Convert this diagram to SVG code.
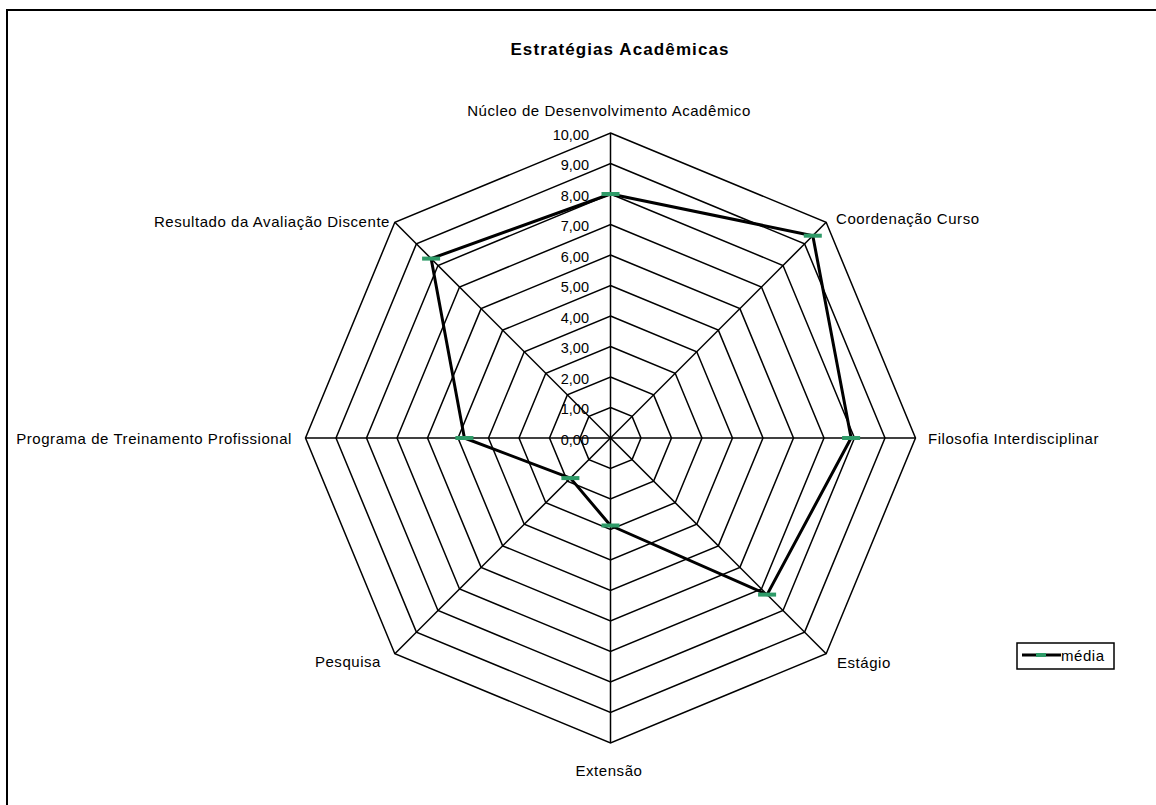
<svg xmlns="http://www.w3.org/2000/svg" width="1156" height="805" viewBox="0 0 1156 805">
  <style>
    text { font-family: "Liberation Sans", Arial, sans-serif; font-size: 15px; letter-spacing: 0.55px; fill: #000; }
    .title { font-size: 17px; font-weight: bold; letter-spacing: 1.1px; }
    .tick { text-anchor: end; font-size: 14.5px; letter-spacing: 0; }
    .grid { fill: none; stroke: #000; stroke-width: 1.5; }
    .series { fill: none; stroke: #000; stroke-width: 3; stroke-linejoin: round; }
    .mark { fill: #2e9b68; }
  </style>
  <defs>
    <rect id="dash" class="mark" x="-9" y="-2" width="18" height="4"/>
  </defs>

  <rect width="1156" height="805" fill="#fff"/>
  <!-- chart frame -->
  <rect x="7" y="10" width="1160" height="810" fill="none" stroke="#000" stroke-width="2"/>

  <text class="title" x="620" y="55" text-anchor="middle">Estratégias Acadêmicas</text>

  <!-- octagonal grid rings and spokes -->
  <g id="grid" class="grid" transform="translate(610.5,438)">
    <polygon points="0,-30.5 21.57,-21.57 30.5,0 21.57,21.57 0,30.5 -21.57,21.57 -30.5,0 -21.57,-21.57"/>
    <polygon points="0,-61 43.13,-43.13 61,0 43.13,43.13 0,61 -43.13,43.13 -61,0 -43.13,-43.13"/>
    <polygon points="0,-91.5 64.7,-64.7 91.5,0 64.7,64.7 0,91.5 -64.7,64.7 -91.5,0 -64.7,-64.7"/>
    <polygon points="0,-122 86.27,-86.27 122,0 86.27,86.27 0,122 -86.27,86.27 -122,0 -86.27,-86.27"/>
    <polygon points="0,-152.5 107.83,-107.83 152.5,0 107.83,107.83 0,152.5 -107.83,107.83 -152.5,0 -107.83,-107.83"/>
    <polygon points="0,-183 129.4,-129.4 183,0 129.4,129.4 0,183 -129.4,129.4 -183,0 -129.4,-129.4"/>
    <polygon points="0,-213.5 150.97,-150.97 213.5,0 150.97,150.97 0,213.5 -150.97,150.97 -213.5,0 -150.97,-150.97"/>
    <polygon points="0,-244 172.53,-172.53 244,0 172.53,172.53 0,244 -172.53,172.53 -244,0 -172.53,-172.53"/>
    <polygon points="0,-274.5 194.1,-194.1 274.5,0 194.1,194.1 0,274.5 -194.1,194.1 -274.5,0 -194.1,-194.1"/>
    <polygon points="0,-305 215.67,-215.67 305,0 215.67,215.67 0,305 -215.67,215.67 -305,0 -215.67,-215.67"/>
    <line x1="0" y1="0" x2="0" y2="-305"/>
    <line x1="0" y1="0" x2="215.67" y2="-215.67"/>
    <line x1="0" y1="0" x2="305" y2="0"/>
    <line x1="0" y1="0" x2="215.67" y2="215.67"/>
    <line x1="0" y1="0" x2="0" y2="305"/>
    <line x1="0" y1="0" x2="-215.67" y2="215.67"/>
    <line x1="0" y1="0" x2="-305" y2="0"/>
    <line x1="0" y1="0" x2="-215.67" y2="-215.67"/>
  </g>

  <!-- scale values -->
  <g id="scale">
    <text class="tick" x="589" y="444.5">0,00</text>
    <text class="tick" x="589" y="414">1,00</text>
    <text class="tick" x="589" y="383.5">2,00</text>
    <text class="tick" x="589" y="353">3,00</text>
    <text class="tick" x="589" y="322.5">4,00</text>
    <text class="tick" x="589" y="292">5,00</text>
    <text class="tick" x="589" y="261.5">6,00</text>
    <text class="tick" x="589" y="231">7,00</text>
    <text class="tick" x="589" y="200.5">8,00</text>
    <text class="tick" x="589" y="170">9,00</text>
    <text class="tick" x="589" y="139.5">10,00</text>
  </g>

  <!-- axis labels -->
  <g id="axis-labels">
    <text x="609" y="116" text-anchor="middle">Núcleo de Desenvolvimento Acadêmico</text>
    <text x="836" y="224">Coordenação Curso</text>
    <text x="928" y="444">Filosofia Interdisciplinar</text>
    <text x="837" y="668">Estágio</text>
    <text x="609" y="776" text-anchor="middle">Extensão</text>
    <text x="381" y="667" text-anchor="end">Pesquisa</text>
    <text x="292" y="444" text-anchor="end">Programa de Treinamento Profissional</text>
    <text x="390" y="227" text-anchor="end">Resultado da Avaliação Discente</text>
  </g>

  <!-- data series "média" -->
  <g id="series-media" transform="translate(610.5,438)">
    <polygon class="series" points="0,-244 202.3,-202.3 240.6,0 156.6,156.6 0,87.5 -40.1,40.1 -146.1,0 -179.4,-179.4"/>
    <use href="#dash" x="0" y="-244"/>
    <use href="#dash" x="202.3" y="-202.3"/>
    <use href="#dash" x="240.6" y="0"/>
    <use href="#dash" x="156.6" y="156.6"/>
    <use href="#dash" x="0" y="87.5"/>
    <use href="#dash" x="-40.1" y="40.1"/>
    <use href="#dash" x="-146.1" y="0"/>
    <use href="#dash" x="-179.4" y="-179.4"/>
  </g>

  <!-- legend -->
  <g id="legend">
    <rect x="1017" y="643" width="97" height="26" fill="#fff" stroke="#000" stroke-width="1.5"/>
    <line x1="1022" y1="655" x2="1061" y2="655" stroke="#000" stroke-width="3"/>
    <rect class="mark" x="1036" y="653" width="10" height="4"/>
    <text x="1061" y="661">média</text>
  </g>
</svg>
